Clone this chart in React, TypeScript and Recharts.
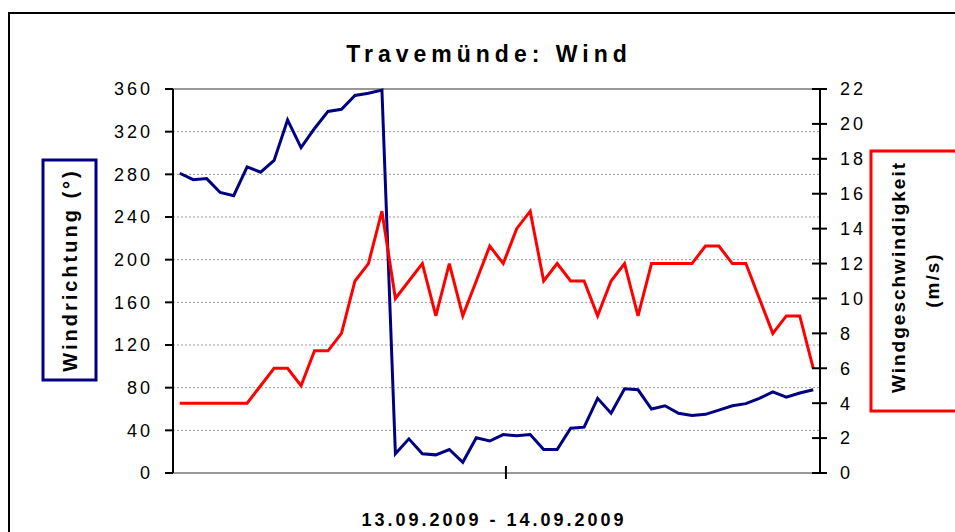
import { LineChart, Line, XAxis, YAxis, CartesianGrid, ReferenceLine } from 'recharts';

// Travemünde, 13.09.2009 - 14.09.2009, one value per half hour
const windDirection = [
  281, 275, 276, 263, 260, 287, 282, 293, 331, 305, 323, 339, 341, 354, 356, 359,
  18, 32, 18, 17, 22, 10, 33, 30, 36, 35, 36, 22, 22,
  42, 43, 70, 56, 79, 78, 60, 63, 56, 54, 55, 59, 63, 65, 70, 76, 71, 75, 78,
];
const windSpeed = [
  4, 4, 4, 4, 4, 4, 5, 6, 6, 5, 7, 7, 8, 11, 12, 15,
  10, 11, 12, 9, 12, 9, 11, 13, 12, 14, 15, 11, 12, 11, 11,
  9, 11, 12, 9, 12, 12, 12, 12, 13, 13, 12, 12, 10, 8, 9, 9, 6,
];
const directionTicks = [0, 40, 80, 120, 160, 200, 240, 280, 320, 360];
const speedTicks = [0, 2, 4, 6, 8, 10, 12, 14, 16, 18, 20, 22];
const dayTicks = [24.2];

const data = windDirection.map((d, i) => ({ idx: i, richtung: d, speed: windSpeed[i] }));

const FONT = '"Liberation Sans", Arial, sans-serif';
const NAVY = '#000080';
const RED = '#ff0000';

const tickStyle = { fill: '#000', fontSize: 18, fontFamily: FONT, letterSpacing: 3 };

function DayTick(props: any) {
  const { x, y } = props;
  return <line x1={x} x2={x} y1={y - 7} y2={y + 6} stroke="#000" strokeWidth={2} />;
}

// right axis ticks cross the axis line, like in the Excel original
function SpeedTick(props: any) {
  const { x, y, payload } = props;
  return (
    <g>
      <line x1={x - 8} x2={x + 7} y1={y} y2={y} stroke="#000" strokeWidth={2} />
      <text x={x + 20} y={y} dy="0.355em" textAnchor="start" {...tickStyle}>
        {payload.value}
      </text>
    </g>
  );
}

export default function App() {
  return (
    <div style={{ position: 'fixed', left: 0, top: 0, width: 955, height: 532, overflow: 'hidden', background: '#fff' }}>
      <div
        style={{
          position: 'absolute',
          left: 8,
          top: 12,
          width: 1000,
          height: 600,
          border: '2px solid #000',
        }}
      />
      <div style={{ position: 'absolute', left: 0, top: 0 }}>
        <LineChart width={955} height={532} data={data} margin={{ top: 89, right: 0, bottom: 29, left: 0 }}>
          <CartesianGrid yAxisId="left" vertical={false} stroke="#999" strokeDasharray="2 2" />
          <XAxis
            type="number"
            dataKey="idx"
            domain={[-0.5, 47.5]}
            ticks={dayTicks}
            height={30}
            axisLine={{ stroke: '#999', strokeWidth: 2 }}
            tickLine={false}
            tickSize={0}
            tickMargin={0}
            tick={<DayTick />}
          />
          <YAxis
            yAxisId="left"
            width={173}
            domain={[0, 360]}
            ticks={directionTicks}
            interval={0}
            axisLine={{ stroke: '#000', strokeWidth: 2 }}
            tickLine={{ stroke: '#000', strokeWidth: 2 }}
            tickSize={8}
            tickMargin={12}
            tick={tickStyle}
          />
          <YAxis
            yAxisId="right"
            orientation="right"
            width={135}
            domain={[0, 22]}
            ticks={speedTicks}
            interval={0}
            axisLine={{ stroke: '#000', strokeWidth: 2 }}
            tickLine={false}
            tickSize={0}
            tickMargin={0}
            tick={<SpeedTick />}
          />
          <ReferenceLine yAxisId="left" y={360} stroke="#999" strokeWidth={2} />
          <Line
            yAxisId="left"
            type="linear"
            dataKey="richtung"
            stroke={NAVY}
            strokeWidth={3}
            dot={false}
            isAnimationActive={false}
          />
          <Line
            yAxisId="right"
            type="linear"
            dataKey="speed"
            stroke={RED}
            strokeWidth={3}
            dot={false}
            isAnimationActive={false}
          />
        </LineChart>
      </div>
      <svg width={955} height={532} style={{ position: 'absolute', left: 0, top: 0, pointerEvents: 'none' }}>
        <text x={489} y={62} textAnchor="middle" fontFamily={FONT} fontWeight="bold" fontSize={23} letterSpacing={5}>
          Travemünde: Wind
        </text>
        <rect x={43} y={160} width={53} height={220} fill="#fff" stroke={NAVY} strokeWidth={3} />
        <text
          x={70}
          y={270}
          transform="rotate(-90 70 270)"
          textAnchor="middle"
          dominantBaseline="central"
          fontFamily={FONT}
          fontWeight="bold"
          fontSize={20}
          letterSpacing={3}
        >
          Windrichtung (°)
        </text>
        <rect x={871} y={151} width={120} height={260} fill="#fff" stroke={RED} strokeWidth={3} />
        <text
          x={898}
          y={277}
          transform="rotate(-90 898 277)"
          textAnchor="middle"
          dominantBaseline="central"
          fontFamily={FONT}
          fontWeight="bold"
          fontSize={19}
          letterSpacing={2}
        >
          Windgeschwindigkeit
        </text>
        <text
          x={932}
          y={280}
          transform="rotate(-90 932 280)"
          textAnchor="middle"
          dominantBaseline="central"
          fontFamily={FONT}
          fontWeight="bold"
          fontSize={19}
          letterSpacing={2}
        >
          (m/s)
        </text>
        <text x={494} y={526} textAnchor="middle" fontFamily={FONT} fontWeight="bold" fontSize={18} letterSpacing={3}>
          13.09.2009 - 14.09.2009
        </text>
      </svg>
    </div>
  );
}
